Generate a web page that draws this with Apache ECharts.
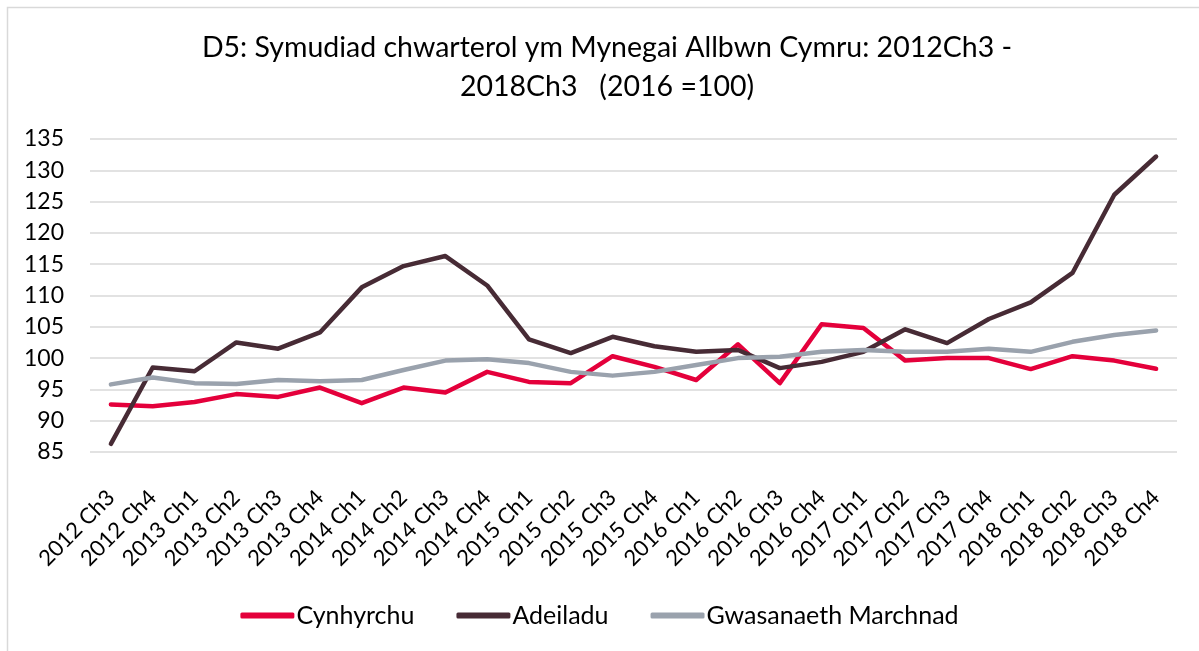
<!DOCTYPE html>
<html>
<head>
<meta charset="utf-8">
<script src="https://cdn.jsdelivr.net/npm/echarts@6/dist/echarts.min.js"></script>
<style>
html,body{margin:0;padding:0;background:#fff;}
#chart{width:1199px;height:651px;}
</style>
</head>
<body>
<div id="chart"></div>
<script>
const categories = ["2012 Ch3","2012 Ch4","2013 Ch1","2013 Ch2","2013 Ch3","2013 Ch4","2014 Ch1","2014 Ch2","2014 Ch3","2014 Ch4","2015 Ch1","2015 Ch2","2015 Ch3","2015 Ch4","2016 Ch1","2016 Ch2","2016 Ch3","2016 Ch4","2017 Ch1","2017 Ch2","2017 Ch3","2017 Ch4","2018 Ch1","2018 Ch2","2018 Ch3","2018 Ch4"];
const cynhyrchu = [92.6,92.3,93.0,94.25,93.8,95.3,92.8,95.3,94.5,97.8,96.2,96.0,100.3,98.6,96.5,102.2,96.0,105.4,104.8,99.6,100.0,100.0,98.25,100.3,99.6,98.3];
const adeiladu = [86.3,98.5,97.9,102.5,101.5,104.1,111.3,114.7,116.3,111.6,103.0,100.8,103.4,101.9,101.0,101.3,98.4,99.4,101.0,104.6,102.4,106.25,108.9,113.6,126.1,132.2];
const gwasanaeth = [95.8,96.9,96.0,95.85,96.5,96.3,96.5,98.1,99.6,99.8,99.2,97.8,97.2,97.8,98.9,100.0,100.2,101.0,101.3,101.0,101.0,101.5,101.0,102.6,103.7,104.4];
const seriesNames = ["Cynhyrchu","Adeiladu","Gwasanaeth Marchnad"];
const yTicks = {min:85, max:135, interval:5};
const titleLines = ["D5: Symudiad chwarterol ym Mynegai Allbwn Cymru: 2012Ch3 -", "2018Ch3   (2016 =100)"];

const FONT = "Lato";
const colors = ["#e4003b","#472b35","#9aa2ad"];
const chart = echarts.init(document.getElementById('chart'), null, {renderer:'canvas'});
function mk(name, data, color){
  return {name:name, type:'line', data:data, symbol:'none', smooth:false,
    lineStyle:{color:color, width:4.5, cap:'round', join:'round'}, itemStyle:{color:color}};
}
function titleText(txt, y){
  return {type:'text', x:607, y:y, silent:true,
    style:{text:txt, textAlign:'center', textVerticalAlign:'middle', fill:'#000',
      font:'normal 28.5px ' + FONT}};
}
chart.setOption({
  animation:false,
  backgroundColor:'#fff',
  graphic:[
    {type:'rect', shape:{x:7.5,y:7.5,width:1250,height:700}, style:{fill:'none', stroke:'#d9d9d9', lineWidth:1.5}, silent:true, z:-10},
    titleText(titleLines[0], 48),
    titleText(titleLines[1], 87)
  ],
  legend:{bottom:18, left:'center', itemWidth:54, itemHeight:6, itemGap:42, icon:'roundRect',
    textStyle:{fontFamily:FONT, fontSize:25, color:'#000', padding:[0,0,0,-3]},
    data:seriesNames},
  grid:{left:90, right:22, top:139, bottom:199, containLabel:false},
  xAxis:{type:'category', data:categories, boundaryGap:true,
    axisLine:{show:false}, axisTick:{show:false},
    axisLabel:{rotate:45, interval:0, margin:42, fontFamily:FONT, fontSize:22, color:'#000'}},
  yAxis:{type:'value', min:yTicks.min, max:yTicks.max, interval:yTicks.interval,
    axisLine:{show:false}, axisTick:{show:false},
    splitLine:{lineStyle:{color:'#d9d9d9', width:1.5}},
    axisLabel:{margin:26, fontFamily:FONT, fontSize:23, color:'#000'}},
  series:[mk(seriesNames[0], cynhyrchu, colors[0]), mk(seriesNames[1], adeiladu, colors[1]), mk(seriesNames[2], gwasanaeth, colors[2])]
});
</script>
</body>
</html>
